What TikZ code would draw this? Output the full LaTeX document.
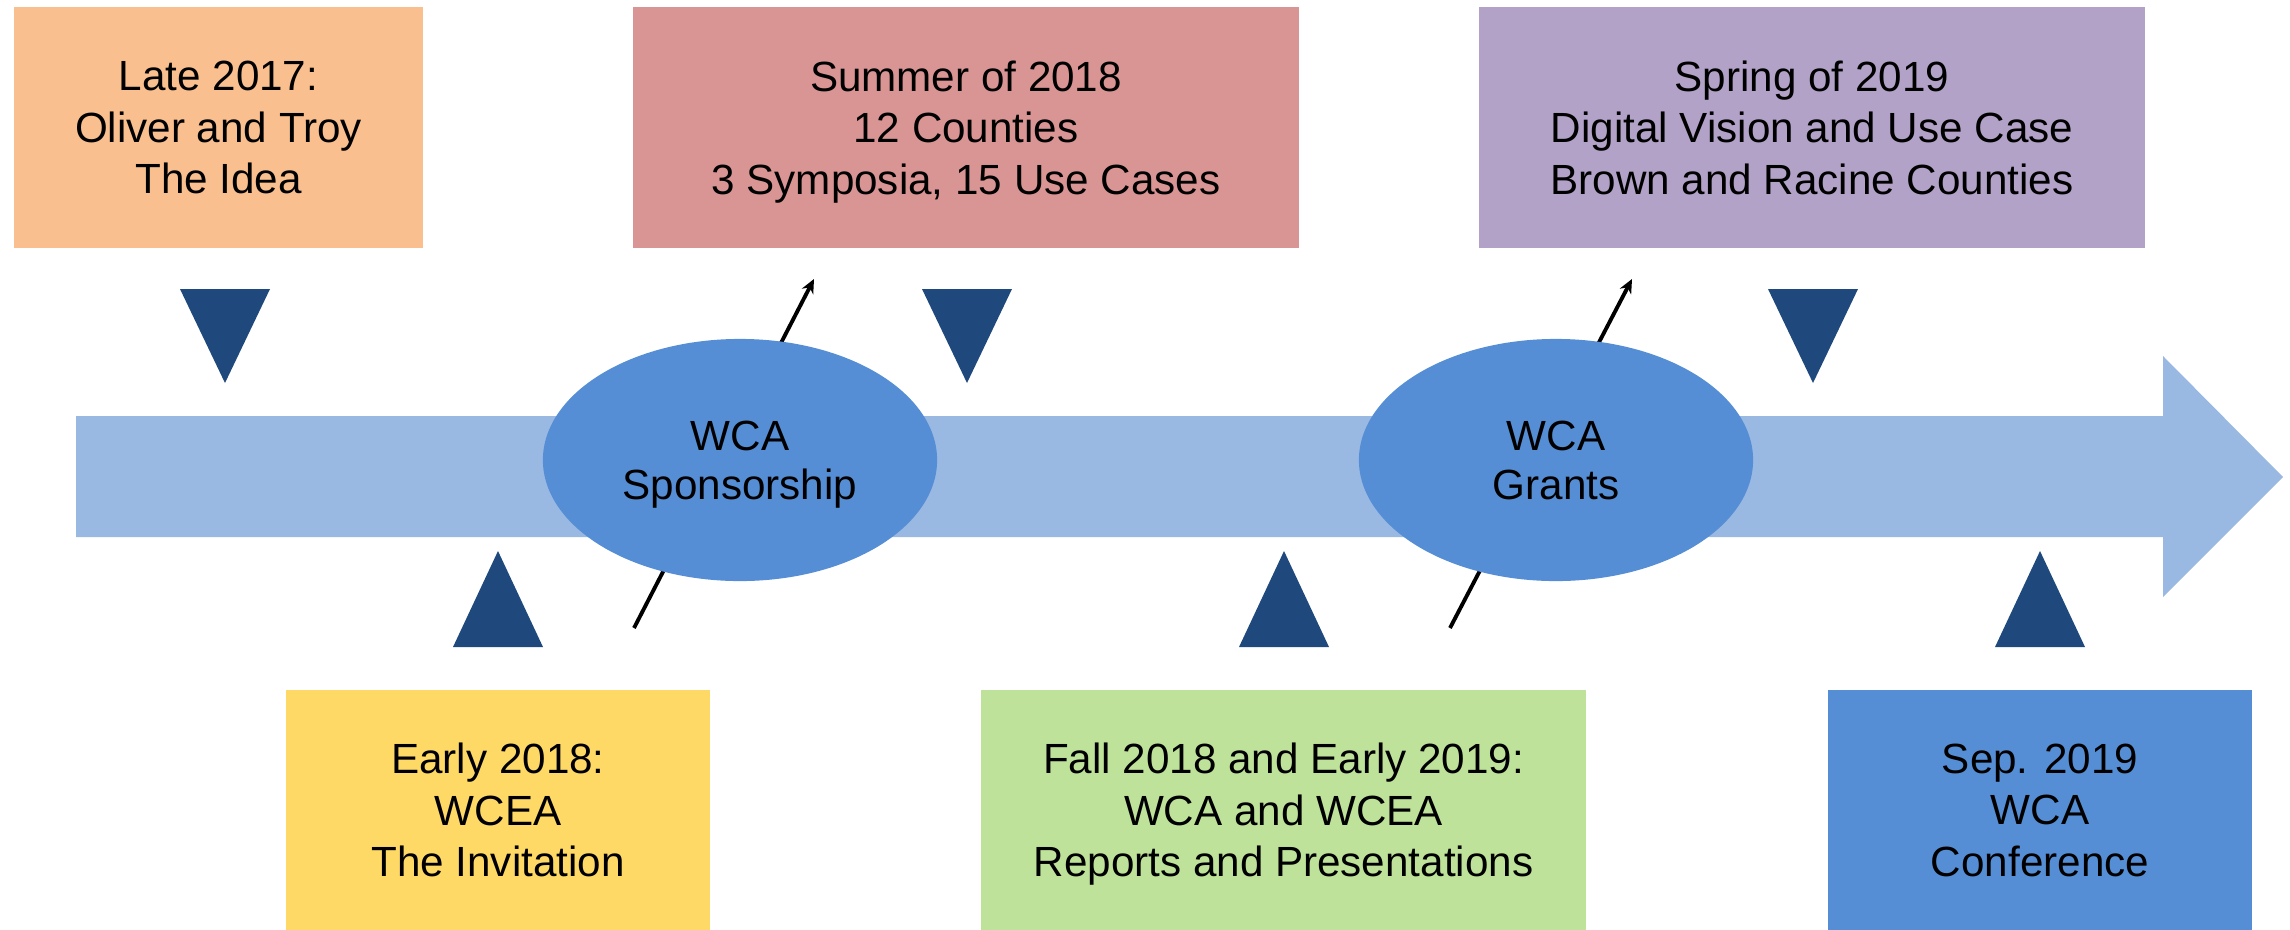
\documentclass[tikz,border=0pt]{standalone}
\usepackage{fontspec}
\setmainfont{Liberation Sans}
\usetikzlibrary{arrows.meta,shapes.geometric}

\definecolor{ideaorange}{HTML}{F9BF8F}
\definecolor{summerpink}{HTML}{D99594}
\definecolor{springlilac}{HTML}{B2A2C7}
\definecolor{inviteyellow}{HTML}{FED966}
\definecolor{reportgreen}{HTML}{BFE29A}
\definecolor{wcablue}{HTML}{558ED5}
\definecolor{barblue}{HTML}{99B9E3}
\definecolor{markerblue}{HTML}{1F497D}

\tikzset{
  event/.style={rectangle, inner sep=0pt, align=center, minimum height=2.41cm,
    text depth=0pt, font=\fontsize{12}{14.6}\selectfont},
  grant/.style={ellipse, fill=wcablue, inner sep=0pt, align=center, text depth=0pt,
    minimum width=3.94cm, minimum height=2.42cm, font=\fontsize{12}{14}\selectfont},
  link/.style={line width=1.1pt, -{Stealth[length=4pt,width=3.6pt]}},
  pics/tri_down/.style={
     code={
        \fill[markerblue] (-45,-47) -- (45,-47) -- (0,47) -- cycle;
     }
  },
  pics/tri_up/.style={
     code={
        \fill[markerblue] (-45,48) -- (45,48) -- (0,-48) -- cycle;
     }
  }
}

\begin{document}
\begin{tikzpicture}[x=0.01cm, y=-0.01cm]
            \useasboundingbox (0,0) rectangle (2290,930);
            \fill[barblue] (76,416) -- (2163,416) -- (2163,356) -- (2283,477) -- (2163,597) -- (2163,537) -- (76,537) -- cycle;
            \node[event, fill=ideaorange, minimum width=4.09cm] (idea) at (218.5,127.5) {Late 2017:\\Oliver and Troy\\The Idea};
            \node[event, fill=summerpink, minimum width=6.66cm] (summer) at (966,127.5) {Summer of 2018\\12 Counties\\3 Symposia, 15 Use Cases};
            \node[event, fill=springlilac, minimum width=6.66cm] (spring) at (1812,127.5) {Spring of 2019\\Digital Vision and Use Case\\Brown and Racine Counties};
            \node[event, fill=inviteyellow, minimum width=4.24cm, minimum height=2.40cm] (invite) at (498,810) {Early 2018:\\WCEA\\The Invitation};
            \node[event, fill=reportgreen, minimum width=6.05cm, minimum height=2.40cm] (reports) at (1283.5,810) {Fall 2018 and Early 2019:\\WCA and WCEA\\Reports and Presentations};
            \node[event, fill=wcablue, minimum width=4.24cm, minimum height=2.40cm] (conf) at (2040,810) {Sep. 2019\\WCA\\Conference};
            \draw (225,336) pic{tri_down};
            \draw (967,336) pic{tri_down};
            \draw (1813,336) pic{tri_down};
            \draw (498,599) pic{tri_up};
            \draw (1284,599) pic{tri_up};
            \draw (2040,599) pic{tri_up};
            \coordinate (sp_in) at (634,628);
            \coordinate (sp_out) at (814,279);
            \coordinate (gr_in) at (1450,628);
            \coordinate (gr_out) at (1632,279);
            \draw[link] (sp_in) -- (sp_out);
            \draw[link] (gr_in) -- (gr_out);
            \node[grant] (sponsor) at (740,460) {WCA\\Sponsorship};
            \node[grant] (grants) at (1556,460) {WCA\\Grants};
        \end{tikzpicture}
\end{document}
